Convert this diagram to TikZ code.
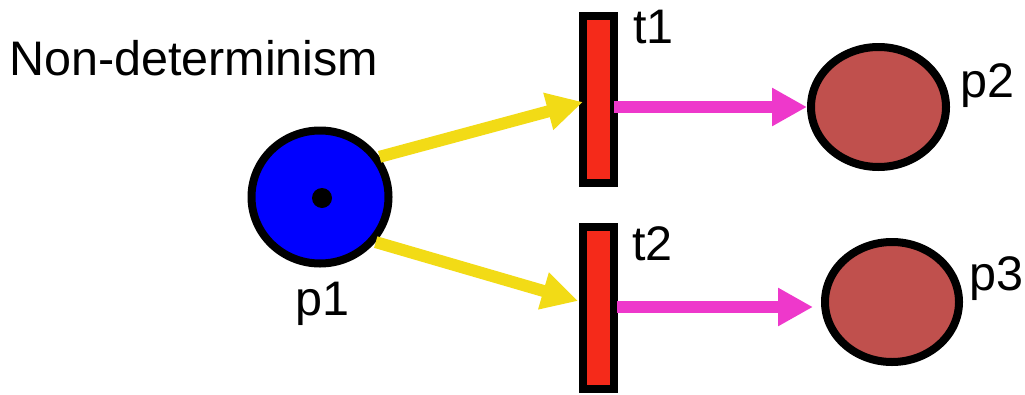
\documentclass[tikz,border=0pt]{standalone}
\usepackage{fontspec}
\setmainfont{Liberation Sans}
\usetikzlibrary{arrows.meta,calc,shapes.geometric}
\definecolor{pblue}{HTML}{0000FF}
\definecolor{tred}{HTML}{F52A1A}
\definecolor{pbrown}{HTML}{C0504D}
\definecolor{ayellow}{HTML}{F2DB16}
\definecolor{amag}{HTML}{EE38CB}
\tikzset{
  place/.style={ellipse, draw=black, line width=8pt, inner sep=0pt},
  trans/.style={rectangle, draw=black, fill=tred, line width=8pt, inner sep=0pt, outer sep=0pt, minimum width=31pt},
  lbl/.style={anchor=base west, inner sep=0pt, font=\fontsize{48.5}{58}\selectfont},
  inarc/.style={draw=ayellow, line width=12pt, -{Triangle[length=36pt,width=36pt]}},
  outarc/.style={draw=amag, line width=12pt, -{Triangle[length=35pt,width=36pt]}},
}
\begin{document}
\begin{tikzpicture}[x=1pt,y=-1pt]
\useasboundingbox (0,0) rectangle (1025,394);
\node[lbl] (title) at (9,75) {Non-determinism};
\node[place, fill=pblue, minimum width=137pt, minimum height=133pt] (p1) at (320,197) {};
\fill[black] (322,198) circle (10pt);
\node[trans, minimum height=167pt] (t1) at (598.5,99.5) {};
\node[trans, minimum height=162pt] (t2) at (598.5,308) {};
\node[place, fill=pbrown, minimum width=135pt, minimum height=120pt] (p2) at (878.5,107) {};
\node[place, fill=pbrown, minimum width=134pt, minimum height=120pt] (p3) at (892,302) {};
\node[lbl] (lp1) at (295,315) {p1};
\node[lbl] (lt1) at (633,43) {t1};
\node[lbl] (lt2) at (632,260) {t2};
\node[lbl] (lp2) at (960,97) {p2};
\node[lbl] (lp3) at (969,290) {p3};
\draw[inarc] (p1.34) -- ($(t1.west)+(0,2.5)$);
\draw[inarc] (p1.-39) -- ($(t2.west)+(-5,-7)$);
\draw[outarc] (t1.east |- p2.west) -- (p2.west);
\draw[outarc] ($(t2.east)+(3,-1)$) -- ($(p3.west)+(-8,5)$);
\end{tikzpicture}
\end{document}
